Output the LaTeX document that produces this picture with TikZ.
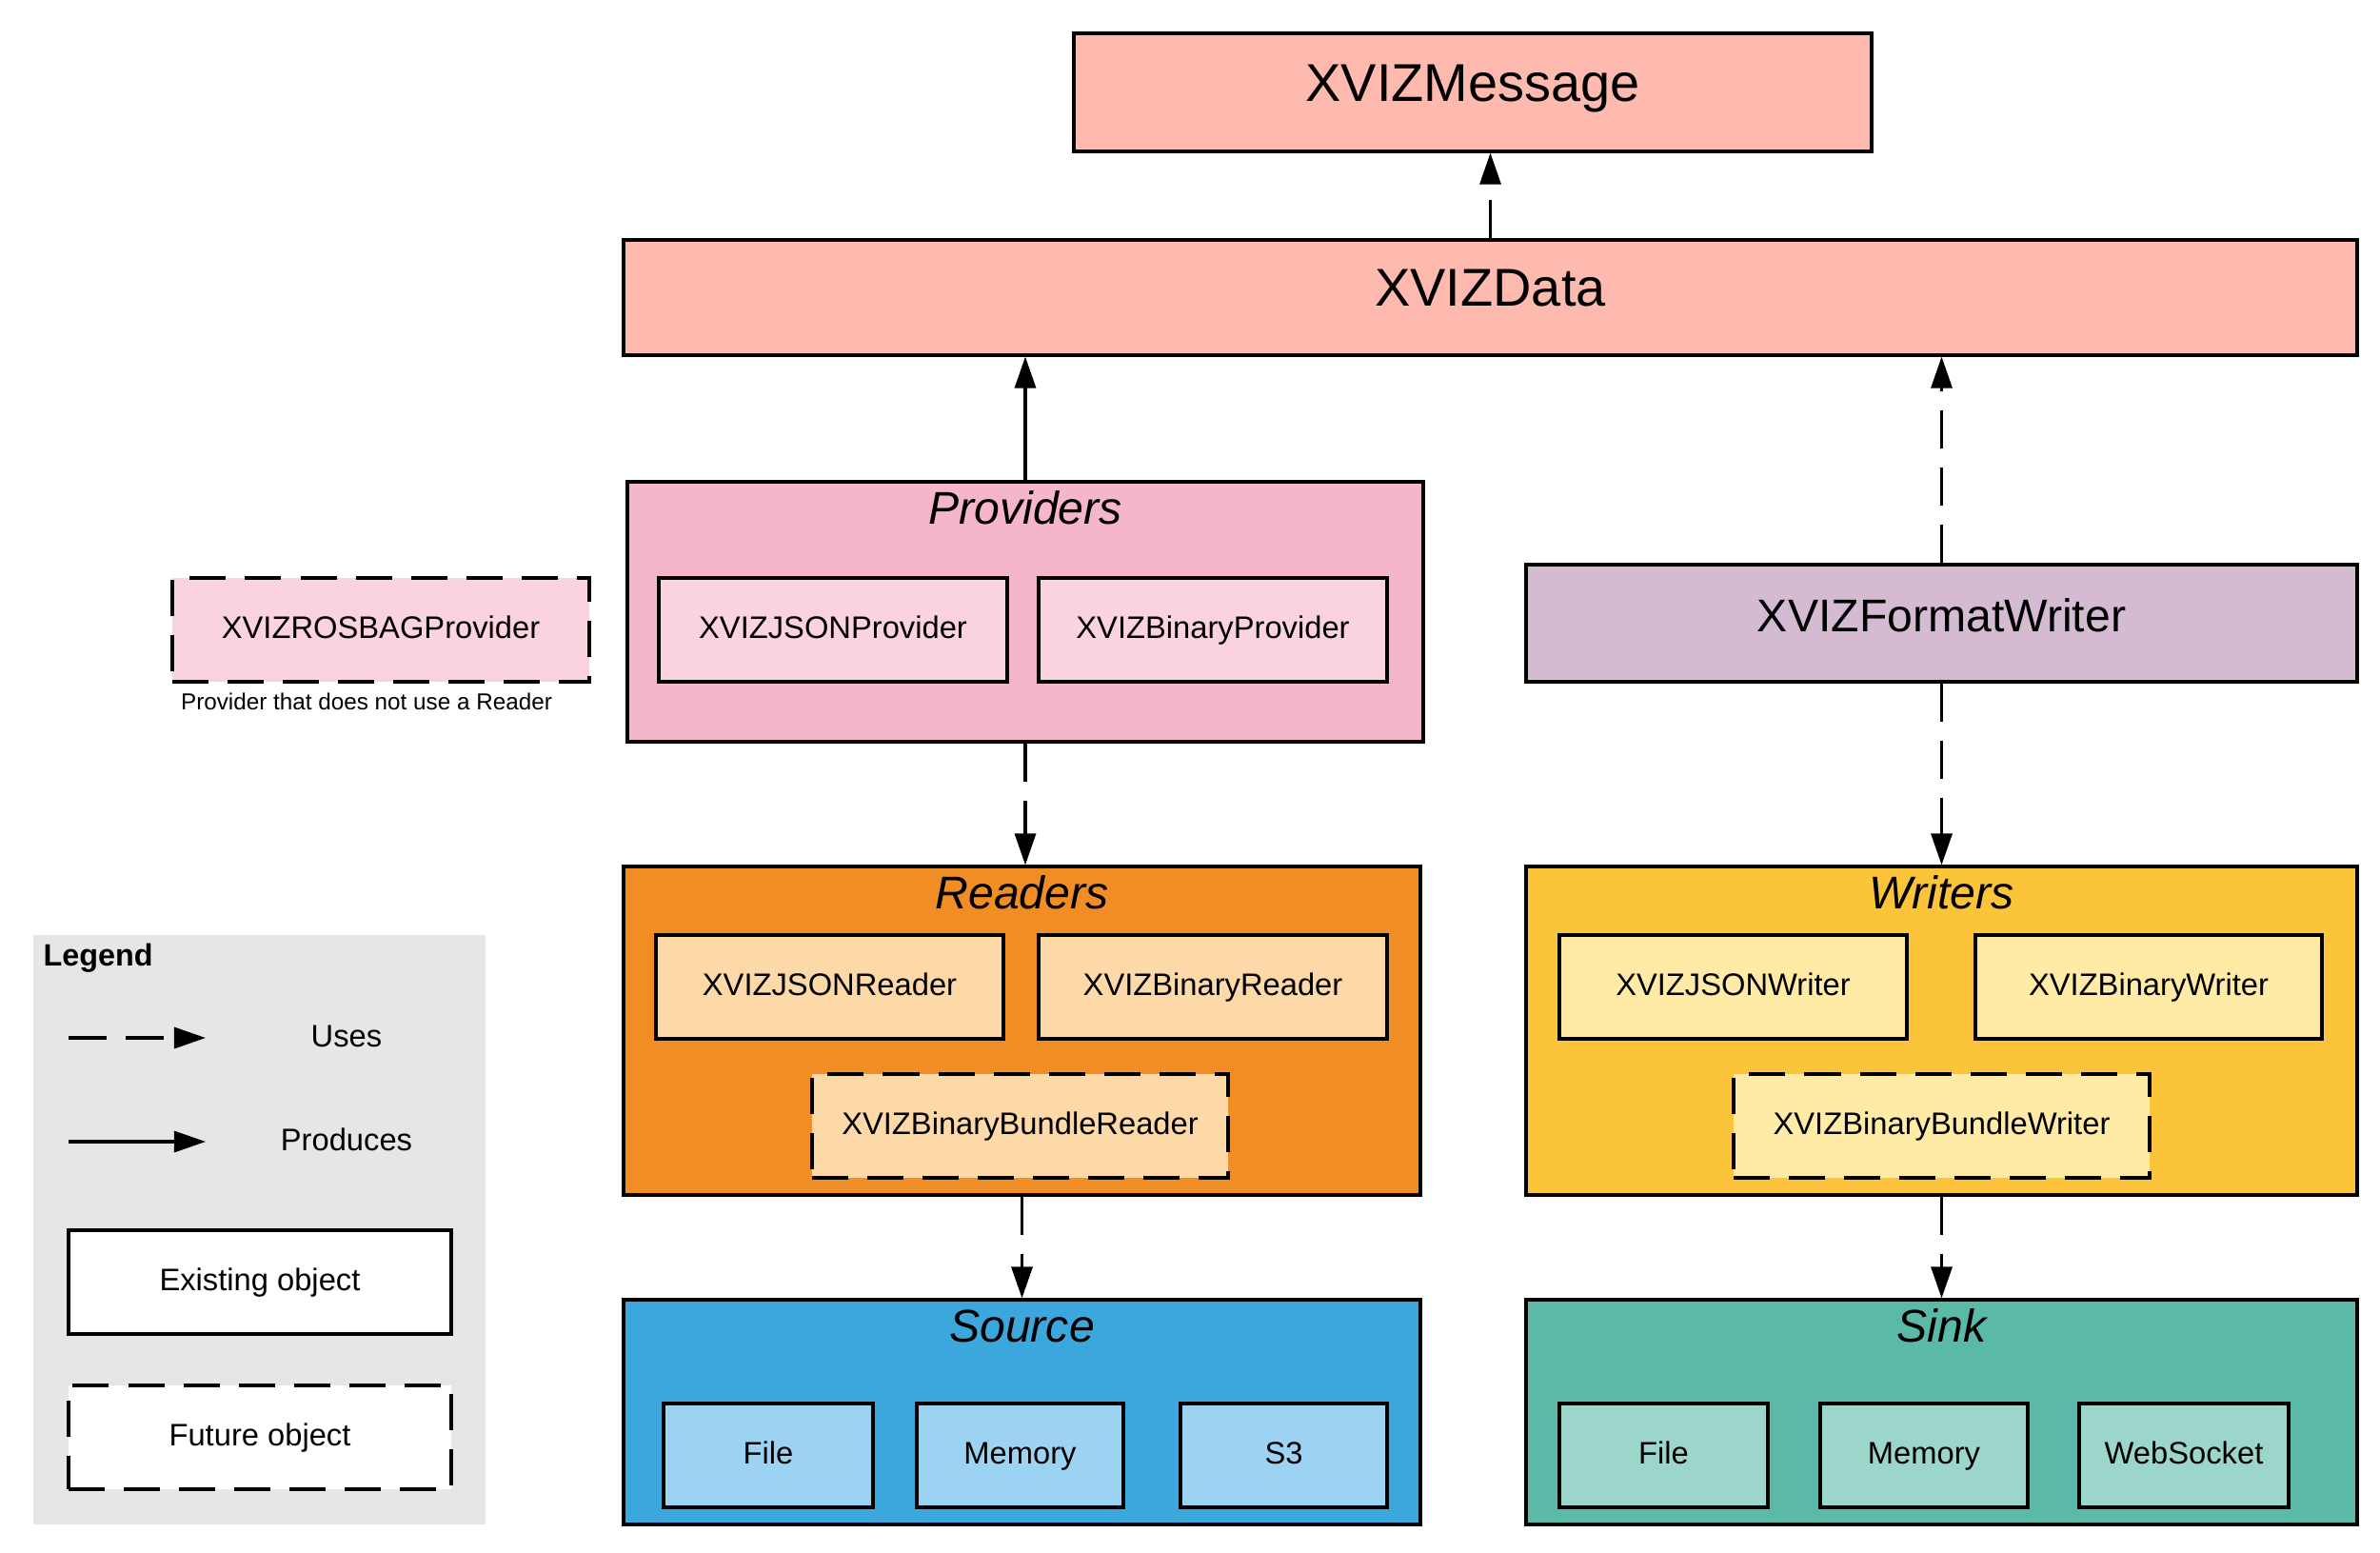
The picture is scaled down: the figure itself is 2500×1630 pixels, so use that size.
\documentclass[tikz,border=0pt]{standalone}
\usepackage{fontspec}
\setmainfont{Liberation Sans}
\usepackage{tikz}
\usetikzlibrary{arrows.meta}

\definecolor{salmon}{HTML}{FFBAB0}
\definecolor{provpink}{HTML}{F4B6C8}
\definecolor{provlight}{HTML}{FAD3DE}
\definecolor{fmtlilac}{HTML}{D4BBD2}
\definecolor{rdorange}{HTML}{F08D25}
\definecolor{rdlight}{HTML}{FDD9A7}
\definecolor{wryellow}{HTML}{FBC43A}
\definecolor{wrlight}{HTML}{FFEBA6}
\definecolor{srcblue}{HTML}{3BA7DD}
\definecolor{srclight}{HTML}{9DD3F2}
\definecolor{sinkteal}{HTML}{5BBAA7}
\definecolor{sinklight}{HTML}{9CD6CB}
\definecolor{legendgray}{HTML}{E6E6E6}

\begin{document}
\begin{tikzpicture}[x=0.01cm, y=-0.01cm,
	obj/.style 2 args={draw, line width=0.9pt, rectangle, inner sep=0pt,
		minimum width=#1*0.01cm, minimum height=#2*0.01cm,
		text height=0.72em, text depth=0.2em,
		font=\fontsize{9.3pt}{11pt}\selectfont},
	future/.style={dash pattern=on 0.38cm off 0.2cm},
	bigtext/.style={font=\fontsize{15.9pt}{18pt}\selectfont},
	grouptitle/.style={inner sep=0pt, text height=0.72em, text depth=0.2em, font=\fontsize{13.7pt}{16pt}\selectfont\itshape},
	uses/.style={line width=0.9pt, dash pattern=on 0.4cm off 0.2cm, -{Triangle[length=0.33cm, width=0.22cm]}},
	produces/.style={line width=0.9pt, -{Triangle[length=0.33cm, width=0.22cm]}}]
			\useasboundingbox (0,0) rectangle (2500,1630);
			
			\node[obj={838}{124}, fill=salmon, bigtext](msg) at (1547,97) {XVIZMessage};
			\node[obj={1821}{121}, fill=salmon, bigtext](data) at (1565.5,312.5) {XVIZData};
			
			\node[obj={836}{273}, fill=provpink](prov) at (1077,642.5) {};
			\node[grouptitle](provtitle) at (1077,541) {Providers};
			\node[obj={366}{109}, fill=provlight](jsonprov) at (875,661.5) {XVIZJSONProvider};
			\node[obj={366}{109}, fill=provlight](binprov) at (1274,661.5) {XVIZBinaryProvider};
			\node[obj={438}{109}, fill=provlight, future](rosbag) at (400,661.5) {XVIZROSBAGProvider};
			\node[inner sep=0pt, font=\fontsize{6.9pt}{8pt}\selectfont](rosbagnote) at (385,737) {Provider that does not use a Reader};
			
			\node[obj={873}{123}, fill=fmtlilac, font=\fontsize{13.7pt}{16pt}\selectfont](fmtw) at (2039.5,654.5) {XVIZFormatWriter};
			
			\node[obj={837}{345}, fill=rdorange](readers) at (1073.5,1082.5) {};
			\node[grouptitle](readerstitle) at (1073.5,945) {Readers};
			\node[obj={365}{109}, fill=rdlight](jsonrd) at (871.5,1036.5) {XVIZJSONReader};
			\node[obj={366}{109}, fill=rdlight](binrd) at (1274,1036.5) {XVIZBinaryReader};
			\node[obj={437}{109}, fill=rdlight, future](bundlerd) at (1071.5,1182.5) {XVIZBinaryBundleReader};
			
			\node[obj={873}{345}, fill=wryellow](writers) at (2039.5,1082.5) {};
			\node[grouptitle](writerstitle) at (2039.5,945) {Writers};
			\node[obj={365}{109}, fill=wrlight](jsonwr) at (1820.5,1036.5) {XVIZJSONWriter};
			\node[obj={364}{109}, fill=wrlight](binwr) at (2257,1036.5) {XVIZBinaryWriter};
			\node[obj={437}{109}, fill=wrlight, future](bundlewr) at (2039.5,1182.5) {XVIZBinaryBundleWriter};
			
			\node[obj={837}{236}, fill=srcblue](source) at (1073.5,1483) {};
			\node[grouptitle](sourcetitle) at (1073.5,1400) {Source};
			\node[obj={220}{109}, fill=srclight](srcfile) at (807,1528.5) {File};
			\node[obj={217}{109}, fill=srclight](srcmem) at (1071.5,1528.5) {Memory};
			\node[obj={217}{109}, fill=srclight](srcs3) at (1348.5,1528.5) {S3};
			
			\node[obj={873}{236}, fill=sinkteal](sink) at (2039.5,1483) {};
			\node[grouptitle](sinktitle) at (2039.5,1400) {Sink};
			\node[obj={219}{109}, fill=sinklight](sinkfile) at (1747.5,1528.5) {File};
			\node[obj={218}{109}, fill=sinklight](sinkmem) at (2021,1528.5) {Memory};
			\node[obj={220}{109}, fill=sinklight](sinkws) at (2294,1528.5) {WebSocket};
			
			\draw[uses](data.north) -- (data.north |- msg.south);
			\draw[produces](prov.north) -- (prov.north |- data.south);
			\draw[uses](fmtw.north) -- (fmtw.north |- data.south);
			\draw[uses](prov.south) -- (prov.south |- readers.north);
			\draw[uses](fmtw.south) -- (fmtw.south |- writers.north);
			\draw[uses](readers.south) -- (readers.south |- source.north);
			\draw[uses](writers.south) -- (writers.south |- sink.north);
			
			\fill[legendgray](35,982) rectangle (510,1601);
			\node[anchor=west, inner sep=0pt, font=\fontsize{9.2pt}{11pt}\selectfont\bfseries](legend) at (45,1006) {Legend};
			\coordinate[](usesa) at (72,1090);
			\coordinate[](usesb) at (216,1090);
			\coordinate[](proda) at (72,1199);
			\coordinate[](prodb) at (216,1199);
			\draw[uses](usesa) -- (usesb);
			\draw[produces](proda) -- (prodb);
			\node[inner sep=0pt, text height=0.72em, text depth=0.2em, font=\fontsize{9.3pt}{11pt}\selectfont](useslbl) at (364,1090) {Uses};
			\node[inner sep=0pt, text height=0.72em, text depth=0.2em, font=\fontsize{9.3pt}{11pt}\selectfont](prodlbl) at (364,1199) {Produces};
			\node[obj={402}{109}, fill=white](existing) at (273,1346.5) {Existing object};
			\node[obj={402}{109}, fill=white, future](futureobj) at (273,1509.5) {Future object};
\end{tikzpicture}
\end{document}
